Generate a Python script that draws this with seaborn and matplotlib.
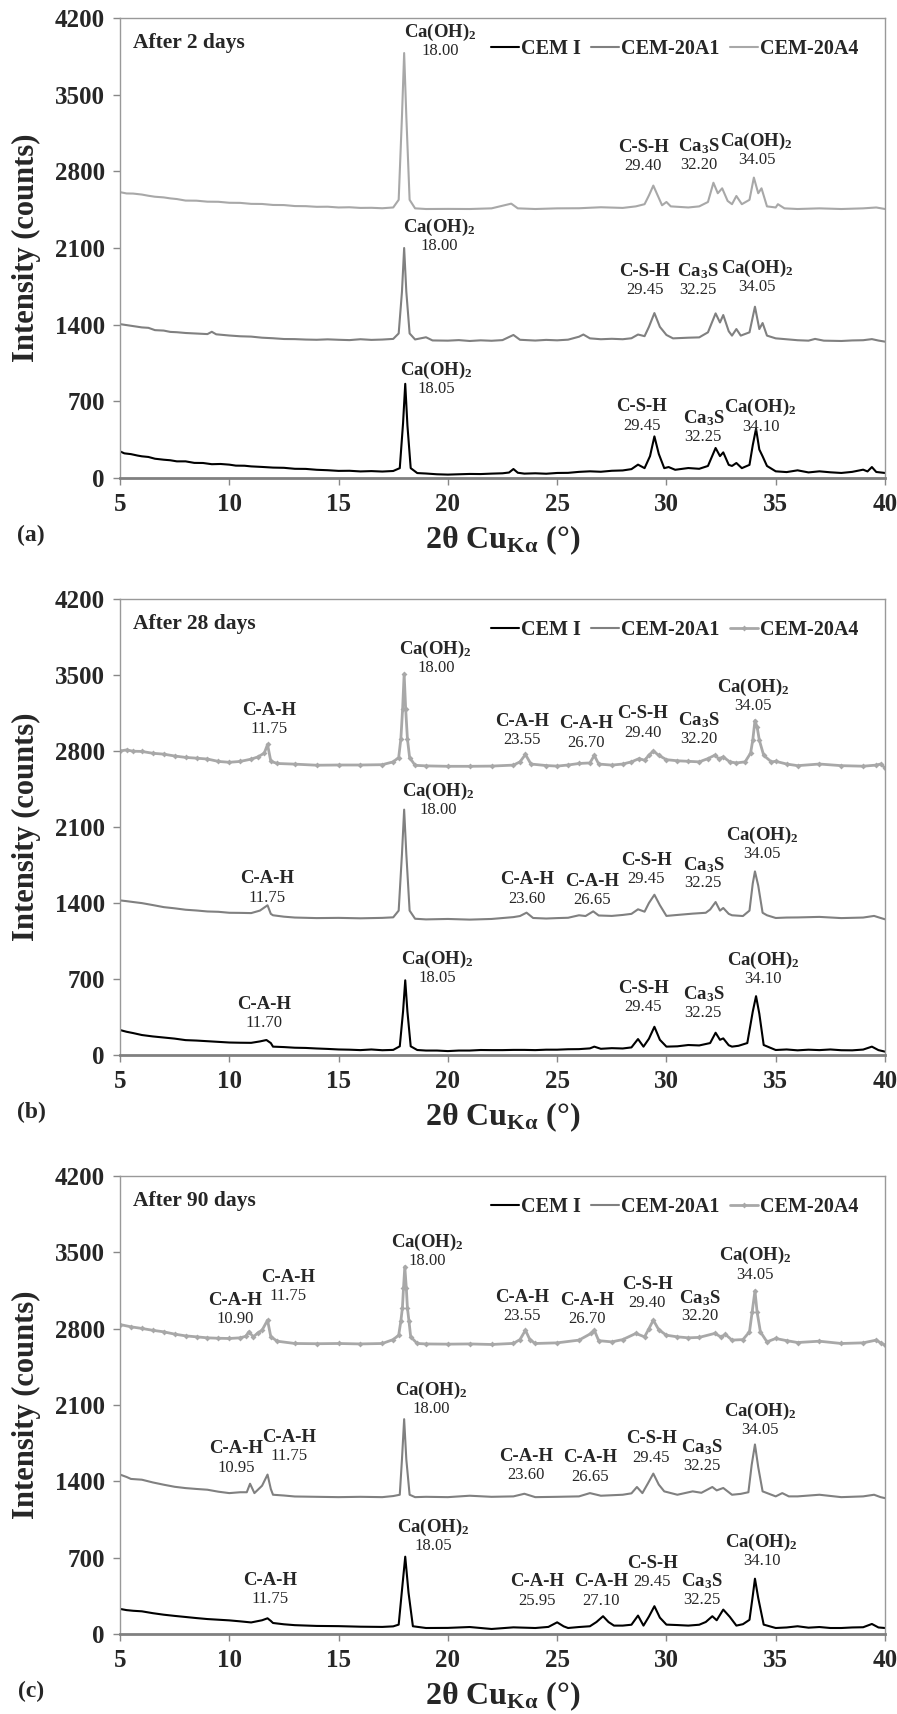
import pandas as pd
import seaborn as sns
import matplotlib.pyplot as plt

sns.set_theme(style='white')
plt.rcParams['font.family'] = ['Liberation Serif', 'DejaVu Serif']
plt.rcParams['mathtext.default'] = 'regular'

# ---- Patrones DRX (2θ, cuentas) ----
cem1_2d = [(5.0,243),(5.2,225),(5.5,218),(5.8,205),(6.0,198),(6.3,192),(6.6,176),(7.0,167),(7.3,162),(7.6,152),(8.0,152),(8.4,138),(8.8,137),(9.2,126),(9.6,128),(10.0,122),(10.3,113),(10.7,112),(11.0,106),(11.5,101),(12.0,95),(12.5,93),(13.0,84),(13.5,83),(14.0,75),(14.5,71),(15.0,65),(15.5,66),(16.0,60),(16.5,63),(17.0,59),(17.5,64),(17.8,90),(17.95,500),(18.05,860),(18.15,480),(18.3,90),(18.6,45),(19.0,41),(19.5,34),(20.0,31),(20.5,34),(21.0,37),(21.5,36),(22.0,40),(22.5,43),(22.8,50),(23.0,82),(23.2,48),(23.5,40),(24.0,43),(24.5,39),(25.0,46),(25.5,47),(26.0,56),(26.5,61),(27.0,57),(27.5,66),(28.0,69),(28.4,81),(28.7,122),(29.0,90),(29.25,200),(29.45,380),(29.65,220),(29.9,90),(30.1,100),(30.4,75),(31.0,91),(31.5,84),(31.9,110),(32.25,274),(32.45,200),(32.6,234),(32.85,120),(33.0,110),(33.2,137),(33.45,90),(33.8,120),(33.95,300),(34.1,450),(34.25,260),(34.4,198),(34.6,110),(35.0,61),(35.5,54),(36.0,70),(36.5,51),(37.0,61),(37.5,52),(38.0,46),(38.5,56),(39.0,76),(39.2,60),(39.4,100),(39.6,55),(40.0,46)]
a1_2d = [(5.0,1405),(5.3,1396),(5.6,1387),(6.0,1375),(6.3,1371),(6.6,1350),(7.0,1346),(7.3,1334),(7.6,1331),(8.0,1324),(8.5,1319),(9.0,1314),(9.2,1335),(9.4,1312),(10.0,1301),(10.5,1294),(11.0,1291),(11.5,1281),(12.0,1276),(12.5,1269),(13.0,1268),(13.5,1264),(14.0,1262),(14.5,1266),(15.0,1262),(15.5,1259),(16.0,1267),(16.5,1261),(17.0,1264),(17.5,1270),(17.75,1320),(17.9,1700),(18.0,2100),(18.1,1700),(18.25,1320),(18.5,1265),(19.0,1285),(19.3,1256),(20.0,1254),(20.5,1259),(21.0,1251),(21.5,1257),(22.0,1253),(22.5,1259),(23.0,1306),(23.3,1262),(24.0,1255),(24.5,1261),(25.0,1257),(25.5,1263),(26.0,1290),(26.2,1310),(26.5,1275),(27.0,1267),(27.5,1271),(28.0,1267),(28.4,1276),(28.7,1310),(29.0,1295),(29.2,1380),(29.45,1506),(29.7,1380),(30.0,1306),(30.3,1275),(31.0,1281),(31.5,1284),(31.9,1330),(32.25,1503),(32.45,1420),(32.6,1488),(32.85,1340),(33.0,1300),(33.2,1360),(33.4,1300),(33.8,1330),(34.05,1564),(34.25,1360),(34.4,1415),(34.6,1300),(35.0,1275),(35.3,1270),(36.0,1258),(36.5,1254),(36.8,1270),(37.2,1254),(38.0,1251),(38.5,1256),(39.0,1258),(39.4,1268),(39.7,1255),(40.0,1245)]
a4_2d = [(5.0,2610),(5.3,2598),(5.6,2597),(6.0,2588),(6.3,2577),(6.6,2568),(7.0,2562),(7.3,2553),(7.6,2547),(8.0,2533),(8.5,2532),(9.0,2523),(9.5,2522),(10.0,2513),(10.5,2512),(11.0,2503),(11.5,2502),(12.0,2493),(12.5,2492),(13.0,2483),(13.5,2482),(14.0,2476),(14.5,2477),(15.0,2470),(15.5,2472),(16.0,2466),(16.5,2467),(17.0,2463),(17.5,2470),(17.75,2540),(17.9,3300),(18.0,3880),(18.1,3300),(18.25,2540),(18.5,2462),(19.0,2456),(20.0,2457),(21.0,2456),(22.0,2462),(22.9,2505),(23.2,2462),(24.0,2456),(25.0,2462),(26.0,2463),(27.0,2472),(28.0,2466),(28.6,2480),(29.0,2500),(29.2,2580),(29.4,2670),(29.6,2580),(29.8,2490),(30.0,2520),(30.2,2480),(31.0,2470),(31.5,2480),(31.9,2520),(32.15,2696),(32.35,2600),(32.55,2645),(32.8,2530),(33.0,2500),(33.2,2575),(33.45,2500),(33.8,2540),(34.0,2743),(34.2,2600),(34.35,2645),(34.6,2480),(35.0,2470),(35.1,2500),(35.4,2462),(36.0,2456),(37.0,2462),(38.0,2456),(39.0,2462),(39.6,2470),(40.0,2456)]

cem1_28d = [(5.0,230),(5.3,214),(5.6,202),(6.0,184),(6.5,171),(7.0,161),(7.5,151),(8.0,137),(8.5,133),(9.0,127),(9.5,121),(10.0,115),(10.5,113),(11.0,112),(11.4,125),(11.7,138),(11.9,110),(12.0,77),(12.5,73),(13.0,67),(13.5,65),(14.0,60),(14.5,56),(15.0,51),(15.5,49),(16.0,45),(16.5,51),(17.0,44),(17.5,47),(17.8,80),(17.95,400),(18.05,688),(18.15,400),(18.3,80),(18.6,46),(19.0,41),(19.5,41),(20.0,36),(20.5,41),(21.0,41),(21.5,46),(22.0,45),(22.5,45),(23.0,47),(23.5,47),(24.0,45),(24.5,49),(25.0,49),(25.5,53),(26.0,54),(26.5,61),(26.7,77),(27.0,57),(27.5,63),(28.0,60),(28.4,70),(28.7,147),(28.95,77),(29.2,150),(29.45,260),(29.7,140),(30.0,77),(30.5,80),(31.0,92),(31.5,88),(32.0,110),(32.25,205),(32.45,140),(32.6,153),(32.85,90),(33.0,77),(33.3,85),(33.7,110),(33.95,400),(34.1,542),(34.25,380),(34.45,92),(35.0,46),(35.5,51),(36.0,43),(36.5,49),(37.0,45),(37.5,51),(38.0,44),(38.5,43),(39.0,50),(39.4,77),(39.7,45),(40.0,31)]
a1_28d = [(5.0,1424),(5.3,1417),(5.6,1409),(6.0,1399),(6.5,1381),(7.0,1362),(7.5,1351),(8.0,1338),(8.5,1331),(9.0,1322),(9.5,1319),(10.0,1310),(10.5,1309),(11.0,1307),(11.4,1330),(11.75,1379),(11.9,1300),(12.0,1287),(12.5,1274),(13.0,1266),(14.0,1261),(15.0,1263),(16.0,1259),(17.0,1263),(17.5,1268),(17.75,1330),(17.9,1850),(18.0,2260),(18.1,1850),(18.25,1330),(18.5,1255),(19.0,1249),(20.0,1253),(21.0,1247),(22.0,1253),(23.0,1270),(23.3,1280),(23.6,1311),(23.9,1262),(24.5,1257),(25.0,1261),(25.5,1264),(26.0,1287),(26.3,1280),(26.65,1323),(26.9,1285),(27.5,1281),(28.0,1290),(28.4,1300),(28.7,1342),(29.0,1320),(29.2,1400),(29.45,1476),(29.7,1380),(30.0,1281),(30.5,1290),(31.2,1302),(31.8,1310),(32.0,1340),(32.25,1409),(32.45,1330),(32.6,1354),(32.85,1300),(33.0,1287),(33.5,1280),(33.8,1330),(33.95,1580),(34.05,1691),(34.2,1560),(34.4,1310),(34.6,1287),(35.0,1262),(35.5,1266),(36.0,1267),(37.0,1272),(38.0,1261),(39.0,1266),(39.5,1281),(39.8,1262),(40.0,1250)]
a4_28d = [(5.0,2800),(5.3,2810),(5.6,2798),(6.0,2796),(6.5,2779),(7.0,2771),(7.5,2754),(8.0,2741),(8.5,2734),(9.0,2726),(9.5,2704),(10.0,2696),(10.5,2704),(11.0,2725),(11.3,2745),(11.6,2780),(11.75,2860),(11.9,2705),(12.2,2685),(13.0,2679),(14.0,2669),(15.0,2671),(16.0,2671),(17.0,2674),(17.5,2700),(17.75,2740),(17.85,2912),(17.93,3188),(18.0,3510),(18.07,3188),(18.15,2912),(18.25,2740),(18.5,2668),(19.0,2663),(20.0,2659),(21.0,2659),(22.0,2661),(23.0,2670),(23.3,2700),(23.55,2768),(23.8,2680),(24.5,2666),(25.0,2661),(25.5,2671),(26.0,2685),(26.5,2690),(26.7,2760),(26.9,2680),(27.5,2670),(28.0,2680),(28.4,2700),(28.75,2730),(29.0,2715),(29.2,2760),(29.4,2800),(29.65,2760),(30.0,2720),(30.5,2710),(31.0,2705),(31.5,2700),(31.9,2730),(32.2,2760),(32.4,2730),(32.6,2745),(32.9,2700),(33.2,2690),(33.6,2700),(33.85,2780),(33.95,2900),(34.05,3080),(34.15,3020),(34.25,2900),(34.45,2760),(34.8,2700),(35.0,2705),(35.5,2680),(36.0,2665),(37.0,2680),(38.0,2665),(39.0,2660),(39.6,2670),(39.8,2680),(40.0,2645)]

cem1_90d = [(5.0,230),(5.3,219),(5.6,213),(6.0,208),(6.5,191),(7.0,177),(7.5,166),(8.0,156),(8.5,146),(9.0,137),(9.5,131),(10.0,125),(10.5,116),(11.0,106),(11.3,118),(11.5,126),(11.75,144),(11.9,120),(12.0,101),(12.5,89),(13.0,81),(14.0,74),(15.0,72),(16.0,67),(17.0,65),(17.5,70),(17.75,86),(17.9,400),(18.05,709),(18.2,380),(18.4,71),(19.0,55),(20.0,56),(21.0,64),(22.0,46),(23.0,61),(24.0,55),(24.6,65),(25.0,107),(25.3,70),(25.5,55),(26.0,64),(26.5,71),(26.8,110),(27.1,163),(27.35,110),(27.6,77),(28.0,77),(28.4,85),(28.7,169),(28.95,77),(29.2,160),(29.45,255),(29.7,150),(30.0,86),(30.5,82),(31.0,77),(31.5,85),(31.8,110),(32.1,163),(32.3,126),(32.6,224),(32.9,157),(33.2,77),(33.5,90),(33.8,130),(33.95,350),(34.05,507),(34.2,330),(34.45,86),(35.0,55),(35.5,60),(36.0,71),(36.5,58),(37.0,64),(37.5,55),(38.0,55),(38.5,60),(39.0,62),(39.4,92),(39.7,60),(40.0,55)]
a1_90d = [(5.0,1462),(5.3,1440),(5.5,1422),(6.0,1415),(6.5,1390),(7.0,1369),(7.5,1350),(8.0,1338),(8.5,1330),(9.0,1323),(9.5,1305),(10.0,1292),(10.5,1300),(10.8,1300),(10.95,1378),(11.15,1292),(11.5,1360),(11.75,1462),(11.9,1330),(12.0,1277),(12.5,1270),(13.0,1261),(14.0,1258),(15.0,1255),(16.0,1258),(17.0,1255),(17.5,1265),(17.8,1277),(17.9,1600),(18.0,1970),(18.1,1600),(18.25,1277),(18.5,1255),(19.0,1258),(20.0,1255),(21.0,1268),(22.0,1258),(23.0,1262),(23.5,1286),(24.0,1255),(25.0,1258),(26.0,1262),(26.5,1292),(27.0,1268),(28.0,1277),(28.4,1290),(28.65,1348),(28.9,1292),(29.15,1380),(29.4,1471),(29.65,1370),(29.9,1308),(30.5,1277),(31.2,1308),(31.6,1295),(32.1,1348),(32.3,1317),(32.6,1339),(33.0,1277),(33.4,1285),(33.75,1300),(33.9,1550),(34.05,1738),(34.2,1530),(34.4,1308),(35.0,1262),(35.3,1292),(35.6,1262),(36.0,1262),(37.0,1277),(38.0,1255),(39.0,1262),(39.5,1277),(39.8,1255),(40.0,1246)]
a4_90d = [(5.0,2838),(5.5,2817),(6.0,2802),(6.5,2785),(7.0,2771),(7.5,2750),(8.0,2734),(8.5,2725),(9.0,2716),(9.5,2712),(10.0,2710),(10.5,2716),(10.75,2730),(10.9,2771),(11.1,2725),(11.3,2760),(11.5,2786),(11.75,2878),(11.9,2725),(12.2,2685),(13.0,2664),(14.0,2662),(15.0,2664),(16.0,2660),(17.0,2664),(17.5,2700),(17.75,2740),(17.85,2870),(17.92,2990),(17.97,3170),(18.03,3369),(18.1,3170),(18.15,2990),(18.22,2870),(18.3,2725),(18.6,2664),(19.0,2660),(20.0,2658),(21.0,2660),(22.0,2655),(23.0,2665),(23.3,2700),(23.55,2786),(23.75,2700),(24.0,2664),(25.0,2670),(26.0,2695),(26.55,2756),(26.7,2786),(26.9,2690),(27.5,2679),(28.0,2700),(28.6,2756),(29.0,2725),(29.2,2800),(29.4,2878),(29.65,2790),(30.0,2740),(30.5,2725),(31.0,2716),(31.5,2720),(32.2,2756),(32.5,2725),(32.7,2747),(33.0,2695),(33.5,2700),(33.8,2771),(33.92,2950),(34.05,3147),(34.15,2950),(34.3,2771),(34.6,2679),(35.0,2710),(35.5,2690),(36.0,2673),(37.0,2685),(38.0,2664),(39.0,2670),(39.6,2695),(39.8,2670),(40.0,2649)]

# ---- Etiquetas de picos: (fase, 2θ, x del texto, y del texto) ----
labels_2d = [
    ("Ca(OH)$_2$", "18.00", 19.65, 4066), ("C-S-H", "29.40", 28.94, 3016),
    ("Ca$_3$S", "32.20", 31.5, 3028), ("Ca(OH)$_2$", "34.05", 34.13, 3073),
    ("Ca(OH)$_2$", "18.00", 19.6, 2285), ("C-S-H", "29.45", 29.0, 1886),
    ("Ca$_3$S", "32.25", 31.45, 1886), ("Ca(OH)$_2$", "34.05", 34.15, 1911),
    ("Ca(OH)$_2$", "18.05", 19.47, 985), ("C-S-H", "29.45", 28.86, 650),
    ("Ca$_3$S", "32.25", 31.69, 545), ("Ca(OH)$_2$", "34.10", 34.31, 640),
]
labels_28d = [
    ("C-A-H", "11.75", 11.84, 3173), ("Ca(OH)$_2$", "18.00", 19.45, 3740),
    ("C-A-H", "23.55", 23.4, 3075), ("C-A-H", "26.70", 26.33, 3050),
    ("C-S-H", "29.40", 28.91, 3142), ("Ca$_3$S", "32.20", 31.47, 3081),
    ("Ca(OH)$_2$", "34.05", 33.98, 3388),
    ("C-A-H", "11.75", 11.74, 1622), ("Ca(OH)$_2$", "18.00", 19.57, 2431),
    ("C-A-H", "23.60", 23.62, 1613), ("C-A-H", "26.65", 26.58, 1600),
    ("C-S-H", "29.45", 29.07, 1790), ("Ca$_3$S", "32.25", 31.69, 1753),
    ("Ca(OH)$_2$", "34.05", 34.37, 2026),
    ("C-A-H", "11.70", 11.6, 465), ("Ca(OH)$_2$", "18.05", 19.5, 878),
    ("C-S-H", "29.45", 28.94, 612), ("Ca$_3$S", "32.25", 31.69, 557),
    ("Ca(OH)$_2$", "34.10", 34.42, 872),
]
labels_90d = [
    ("C-A-H", "10.90", 10.25, 3062), ("C-A-H", "11.75", 12.69, 3272),
    ("Ca(OH)$_2$", "18.00", 19.05, 3594), ("C-A-H", "23.55", 23.41, 3084),
    ("C-A-H", "26.70", 26.37, 3062), ("C-S-H", "29.40", 29.13, 3207),
    ("Ca$_3$S", "32.20", 31.53, 3084), ("Ca(OH)$_2$", "34.05", 34.05, 3468),
    ("C-A-H", "10.95", 10.31, 1698), ("C-A-H", "11.75", 12.75, 1805),
    ("Ca(OH)$_2$", "18.00", 19.24, 2235), ("C-A-H", "23.60", 23.58, 1627),
    ("C-A-H", "26.65", 26.52, 1615), ("C-S-H", "29.45", 29.3, 1790),
    ("Ca$_3$S", "32.25", 31.62, 1713), ("Ca(OH)$_2$", "34.05", 34.3, 2042),
    ("C-A-H", "11.75", 11.88, 494), ("Ca(OH)$_2$", "18.05", 19.32, 976),
    ("C-A-H", "25.95", 24.1, 479), ("C-A-H", "27.10", 27.0, 479),
    ("C-S-H", "29.45", 29.36, 648), ("Ca$_3$S", "32.25", 31.62, 485),
    ("Ca(OH)$_2$", "34.10", 34.35, 838),
]

series_names = ['CEM I', 'CEM-20A1', 'CEM-20A4']
titles = ['After 2 days', 'After 28 days', 'After 90 days']
panel_tags = ['(a)', '(b)', '(c)']
y_ticks = [0, 700, 1400, 2100, 2800, 3500, 4200]
x_ticks = [5, 10, 15, 20, 25, 30, 35, 40]

panels = [
    ([cem1_2d, a1_2d, a4_2d], labels_2d, 18, 478, False),
    ([cem1_28d, a1_28d, a4_28d], labels_28d, 599, 1055, True),
    ([cem1_90d, a1_90d, a4_90d], labels_90d, 1176, 1634, True),
]
colors = ['black', '#808080', '#a8a8a8']

W, H = 897, 1714
fig = plt.figure(figsize=(W / 100, H / 100), dpi=100)

for i, (curves, labels, top, bottom, markers) in enumerate(panels):
    ax = fig.add_axes([120 / W, (H - bottom) / H, 765 / W, (bottom - top) / H])
    for name, pts, col in zip(series_names, curves, colors):
        df = pd.DataFrame(pts, columns=['two_theta', 'counts'])
        kw = dict(lw=1.5)
        if markers and name == 'CEM-20A4':
            kw = dict(lw=2.0, marker='D', markersize=3, markeredgewidth=0)
        sns.lineplot(data=df, x='two_theta', y='counts', ax=ax, color=col,
                     estimator=None, sort=False, label=name, **kw)

    for fase, val, x, y in labels:
        ax.text(x, y, fase, ha='center', va='center', fontsize=13.5, fontweight='bold')
        ax.annotate(val, (x, y), xytext=(0, -13.5), textcoords='offset points',
                    ha='center', va='center', fontsize=12)

    ax.set_xlim(5, 40)
    ax.set_ylim(0, 4200)
    ax.set_xticks(x_ticks)
    ax.set_yticks(y_ticks)
    for lab in ax.get_xticklabels() + ax.get_yticklabels():
        lab.set_fontweight('bold')
    ax.tick_params(axis='both', labelsize=18, length=5, width=1, color='#888888',
                   direction='out', bottom=True, left=True, pad=6)
    for side in ['left', 'top', 'right']:
        ax.spines[side].set_color('#999999')
        ax.spines[side].set_linewidth(1.0)
    ax.spines['bottom'].set_color('#808080')
    ax.spines['bottom'].set_linewidth(2.0)

    ax.set_xlabel('2θ Cu$_{Kα}$ (°)', fontsize=23, fontweight='bold')
    ax.xaxis.label.set_va('center')
    ax.xaxis.set_label_coords(0.5, -62 / (bottom - top))
    ax.set_ylabel('Intensity (counts)', fontsize=22, fontweight='bold')
    ax.yaxis.label.set_va('center')
    ax.yaxis.set_label_coords(-94 / 765, 0.5)

    ax.text(0.017, 0.945, titles[i], transform=ax.transAxes, ha='left', va='center',
            fontsize=15.5, fontweight='bold')
    handles, names = ax.get_legend_handles_labels()
    ax.legend(handles, names, ncol=3, frameon=False, loc='center right',
              bbox_to_anchor=(0.978, 0.932), borderpad=0, handlelength=1.4,
              handletextpad=0.1, columnspacing=0.5,
              prop={'size': 14.5, 'weight': 'bold'})

    fig.text(31 / W, 1 - (bottom + 57) / H, panel_tags[i], ha='center', va='center',
             fontsize=17, fontweight='bold')

fig.savefig('out.png', dpi=100)
